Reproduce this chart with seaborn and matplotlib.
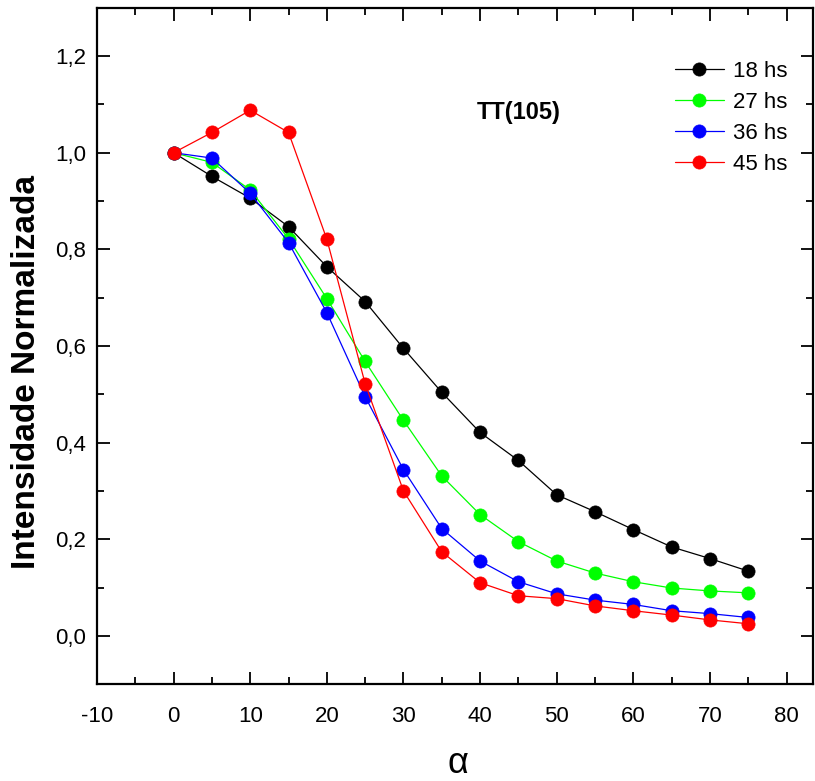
import numpy as np
import pandas as pd
import seaborn as sns
import matplotlib
matplotlib.use('Agg')
import matplotlib.pyplot as plt
from matplotlib.ticker import MultipleLocator, FuncFormatter

# angle values (alpha) and normalized intensity for each treatment time
alpha = [0, 5, 10, 15, 20, 25, 30, 35, 40, 45, 50, 55, 60, 65, 70, 75]
int_18 = [1.0, 0.951, 0.906, 0.847, 0.764, 0.692, 0.595, 0.504, 0.421, 0.363,
          0.292, 0.257, 0.220, 0.184, 0.160, 0.134]
int_27 = [1.0, 0.980, 0.923, 0.822, 0.698, 0.568, 0.446, 0.331, 0.251, 0.195,
          0.155, 0.130, 0.112, 0.099, 0.093, 0.089]
int_36 = [1.0, 0.989, 0.916, 0.814, 0.669, 0.495, 0.344, 0.222, 0.155, 0.112,
          0.087, 0.074, 0.065, 0.052, 0.046, 0.038]
int_45 = [1.0, 1.042, 1.088, 1.042, 0.821, 0.522, 0.300, 0.174, 0.110, 0.083,
          0.077, 0.062, 0.052, 0.043, 0.033, 0.025]
labels = ['18 hs', '27 hs', '36 hs', '45 hs']
colors = ['#000000', '#00ff00', '#0000ff', '#ff0000']

sns.set_style('ticks')
plt.rcParams['font.family'] = ['Liberation Sans', 'DejaVu Sans']
for k in ['text.color', 'axes.labelcolor', 'xtick.color', 'ytick.color', 'axes.edgecolor']:
    plt.rcParams[k] = 'black'

fig = plt.figure(figsize=(8.15, 7.81), dpi=100)
ax = fig.add_axes([0.119, 0.124, 0.879, 0.866])

series = [int_18, int_27, int_36, int_45]
for vals, lab, col in zip(series, labels, colors):
    df = pd.DataFrame({'alpha': alpha, 'I': vals})
    sns.lineplot(data=df, x='alpha', y='I', ax=ax, color=col, label=lab,
                 marker='o', markersize=9.5, markeredgecolor=col,
                 markeredgewidth=0.5, linewidth=0.9)

ax.set_xlim(-10, 83.5)
ax.set_ylim(-0.1, 1.3)
ax.xaxis.set_major_locator(MultipleLocator(10))
ax.xaxis.set_minor_locator(MultipleLocator(5))
ax.yaxis.set_major_locator(MultipleLocator(0.2))
ax.yaxis.set_minor_locator(MultipleLocator(0.1))
ax.yaxis.set_major_formatter(FuncFormatter(lambda v, p: f'{v:.1f}'.replace('.', ',')))
ax.xaxis.set_major_formatter(FuncFormatter(lambda v, p: f'{v:.0f}'))

ax.tick_params(which='both', direction='in', top=True, right=True,
               labelsize=16, width=1.3, pad=8)
ax.tick_params(which='major', length=9)
ax.tick_params(which='minor', length=5)
ax.tick_params(axis='x', pad=16)
for s in ax.spines.values():
    s.set_linewidth(1.6)

ax.set_xlabel('')
ax.set_ylabel('')
fig.text(0.562, 0.022, 'α', fontsize=26, ha='center', va='center')
fig.text(0.032, 0.524, 'Intensidade Normalizada', fontsize=24,
         fontweight='bold', rotation=90, ha='center', va='center')

ax.text(45, 1.084, 'TT(105)', fontsize=17, fontweight='bold',
        ha='center', va='center')

leg = ax.legend(loc='upper right', bbox_to_anchor=(0.985, 0.945), frameon=False,
                fontsize=16, handlelength=2.2, handletextpad=0.4,
                labelspacing=0.45, borderaxespad=0.3)

fig.savefig('out.png', dpi=100)
